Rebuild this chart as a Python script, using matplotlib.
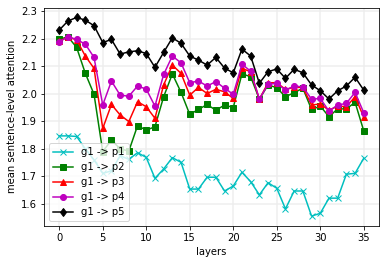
import matplotlib
matplotlib.use("Agg")
import matplotlib.pyplot as plt
import numpy as np

layers = list(range(36))
p1 = [1.847, 1.847, 1.845, 1.80, 1.76, 1.711, 1.72, 1.775, 1.762, 1.786, 1.769, 1.693,
      1.727, 1.768, 1.751, 1.654, 1.654, 1.697, 1.697, 1.647, 1.665, 1.715, 1.681, 1.633,
      1.677, 1.657, 1.582, 1.647, 1.647, 1.556, 1.566, 1.621, 1.621, 1.708, 1.711, 1.766]
p2 = [2.197, 2.207, 2.168, 2.074, 1.998, 1.79, 1.832, 1.80, 1.792, 1.884, 1.868, 1.88,
      1.989, 2.072, 2.005, 1.925, 1.943, 1.961, 1.94, 1.959, 1.95, 2.072, 2.062, 1.98,
      2.032, 2.022, 1.989, 2.004, 2.02, 1.943, 1.955, 1.917, 1.945, 1.945, 1.969, 1.865]
p3 = [2.19, 2.207, 2.195, 2.137, 2.092, 1.874, 1.961, 1.923, 1.899, 1.971, 1.953, 1.911,
      2.032, 2.104, 2.074, 1.995, 2.023, 2.001, 2.016, 2.007, 1.983, 2.092, 2.08, 1.98,
      2.04, 2.04, 2.016, 2.023, 2.023, 1.959, 1.963, 1.94, 1.955, 1.953, 1.989, 1.915]
p4 = [2.188, 2.207, 2.197, 2.18, 2.132, 1.959, 2.046, 1.995, 1.991, 2.028, 2.017, 1.955,
      2.07, 2.137, 2.112, 2.04, 2.046, 2.028, 2.044, 2.02, 1.998, 2.107, 2.082, 1.981,
      2.034, 2.038, 2.013, 2.028, 2.025, 1.98, 1.983, 1.937, 1.959, 1.965, 2.005, 1.931]
p5 = [2.231, 2.264, 2.277, 2.267, 2.247, 2.186, 2.197, 2.144, 2.152, 2.156, 2.146, 2.096,
      2.15, 2.203, 2.183, 2.137, 2.122, 2.104, 2.132, 2.093, 2.076, 2.162, 2.137, 2.038,
      2.080, 2.090, 2.056, 2.089, 2.076, 2.032, 2.011, 1.981, 2.011, 2.028, 2.060, 2.013]

labels = ["g1 -> p1", "g1 -> p2", "g1 -> p3", "g1 -> p4", "g1 -> p5"]
series = [p1, p2, p3, p4, p5]
styles = [("c", "x"), ("g", "s"), ("r", "^"), ("m", "o"), ("k", "d")]

dpi = 72
fig = plt.figure(figsize=(386 / dpi, 264 / dpi), dpi=dpi)
ax = fig.add_axes([44 / 386, 1 - 226 / 264, (379 - 44) / 386, (226 - 7.5) / 264])
for ys, lab, (c, m) in zip(series, labels, styles):
    ax.plot(layers, ys, color=c, marker=m, label=lab)
ax.grid(True, color="#eeeeee", linewidth=1.5)
ax.set_axisbelow(True)
ax.set_xlabel("layers")
ax.set_ylabel("mean sentence-level attention")
ax.legend(loc="lower left")
fig.savefig("out.png", dpi=dpi)
